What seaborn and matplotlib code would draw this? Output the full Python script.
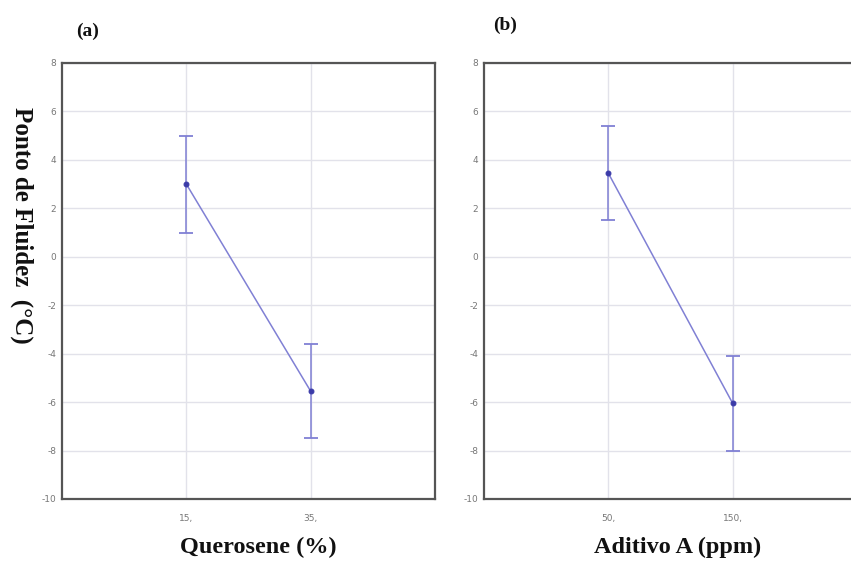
import matplotlib
matplotlib.use("Agg")
import matplotlib.pyplot as plt
import seaborn as sns
import pandas as pd

# Mean pour point (°C) with confidence limits for each factor level
querosene_levels = ["15,", "35,"]
querosene_mean = [3.0, -5.55]
querosene_low = [1.0, -7.5]
querosene_high = [5.0, -3.6]

aditivo_levels = ["50,", "150,"]
aditivo_mean = [3.45, -6.05]
aditivo_low = [1.5, -8.0]
aditivo_high = [5.4, -4.1]

y_ticks = [8, 6, 4, 2, 0, -2, -4, -6, -8, -10]

sns.set_theme(style="white")
plt.rcParams["font.family"] = ["DejaVu Sans"]

LINE = "#8080d4"
DOT = "#3b3ba8"
GRID = "#e2e2ea"
SPINE = "#555555"
SERIF = ["Liberation Serif", "DejaVu Serif"]

fig = plt.figure(figsize=(8.51, 5.61), dpi=100)
W, H = 851, 561
ax_a = fig.add_axes([62 / W, 1 - 499 / H, 373 / W, 436 / H])
ax_b = fig.add_axes([484 / W, 1 - 499 / H, 373 / W, 436 / H])


def draw_panel(ax, levels, mean, low, high):
    pos = list(range(1, len(levels) + 1))
    df = pd.DataFrame({"pos": pos, "mean": mean})
    sns.lineplot(data=df, x="pos", y="mean", ax=ax, color=LINE, linewidth=1.1,
                 marker="o", markersize=3.5, markerfacecolor=DOT,
                 markeredgecolor=DOT, zorder=3)
    yerr = [[m - lo for m, lo in zip(mean, low)],
            [hi - m for m, hi in zip(mean, high)]]
    ax.errorbar(pos, mean, yerr=yerr, fmt="none", ecolor=LINE,
                elinewidth=1.1, capsize=5, capthick=1.3, zorder=2)
    ax.set_xlim(0, 3)
    ax.set_ylim(-10, 8)
    ax.set_xticks(pos)
    ax.set_xticklabels(levels)
    ax.set_yticks(y_ticks)
    ax.set_yticklabels([str(t) for t in y_ticks])
    ax.grid(True, color=GRID, linewidth=1.0)
    ax.set_axisbelow(True)
    for s in ax.spines.values():
        s.set_color(SPINE)
        s.set_linewidth(1.6)
    ax.tick_params(axis="both", labelsize=6.5, colors="#777777",
                   length=2.5, direction="in", pad=4)
    ax.tick_params(axis="x", pad=11)
    ax.set_xlabel("")
    ax.set_ylabel("")


draw_panel(ax_a, querosene_levels, querosene_mean, querosene_low,
           querosene_high)
draw_panel(ax_b, aditivo_levels, aditivo_mean, aditivo_low,
           aditivo_high)

fig.text(258 / W, 1 - 547 / H, "Querosene (%)", family=SERIF, fontsize=17.5,
         fontweight="bold", ha="center", va="center", color="#111111")
fig.text(678 / W, 1 - 547 / H, "Aditivo A (ppm)", family=SERIF, fontsize=17.5,
         fontweight="bold", ha="center", va="center", color="#111111")
fig.text(88 / W, 1 - 31 / H, "(a)", family=SERIF, fontsize=14,
         fontweight="bold", ha="center", va="center", color="#111111")
fig.text(505 / W, 1 - 25 / H, "(b)", family=SERIF, fontsize=14,
         fontweight="bold", ha="center", va="center", color="#111111")
fig.text(22 / W, 1 - 225 / H, "Ponto de Fluidez  (°C)", family=SERIF,
         fontsize=18, fontweight="bold", rotation=270, ha="center",
         va="center", color="#111111")

fig.savefig("out.png", dpi=100)
